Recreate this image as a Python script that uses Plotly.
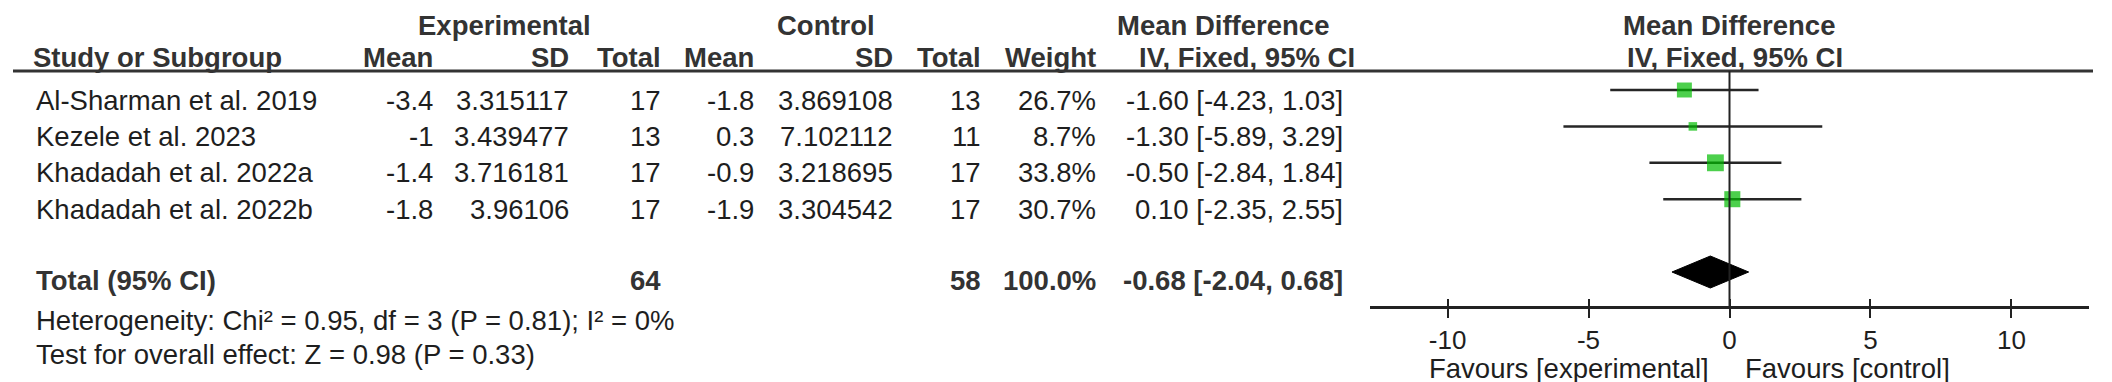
import plotly.graph_objects as go
import math

# ---------------- data ----------------
studies = ["Al-Sharman et al. 2019", "Kezele et al. 2023", "Khadadah et al. 2022a", "Khadadah et al. 2022b"]
exp_mean = ["-3.4", "-1", "-1.4", "-1.8"]
exp_sd = ["3.315117", "3.439477", "3.716181", "3.96106"]
exp_total = [17, 13, 17, 17]
ctrl_mean = ["-1.8", "0.3", "-0.9", "-1.9"]
ctrl_sd = ["3.869108", "7.102112", "3.218695", "3.304542"]
ctrl_total = [13, 11, 17, 17]
weights = [26.7, 8.7, 33.8, 30.7]
md = [-1.60, -1.30, -0.50, 0.10]
ci_low = [-4.23, -5.89, -2.84, -2.35]
ci_high = [1.03, 3.29, 1.84, 2.55]

total_label = "Total (95% CI)"
total_exp = 64
total_ctrl = 58
total_weight = 100.0
total_md = -0.68
total_low = -2.04
total_high = 0.68

heterogeneity = "Heterogeneity: Chi² = 0.95, df = 3 (P = 0.81); I² = 0%"
overall = "Test for overall effect: Z = 0.98 (P = 0.33)"

tick_vals = [-10, -5, 0, 5, 10]
tick_text = ["-10", "-5", "0", "5", "10"]
favours_left = "Favours [experimental]"
favours_right = "Favours [control]"

# ---------------- layout helpers ----------------
W, H = 2112, 382
FONT = "Arial, 'Liberation Sans', sans-serif"
TXT = "#1e1e1e"
HDR = "#333333"
FS = 27.5
ROW0, ROWH = 82.0, 36.4  # pixel centre of first row, row pitch


def px(x):
    return x / W


def py(y):
    return 1 - y / H


rows = list(range(len(studies)))
total_row = len(studies) + 1

fig = go.Figure()

# CI lines
for i in rows:
    fig.add_trace(go.Scatter(x=[ci_low[i], ci_high[i]], y=[i, i], mode="lines",
                             line=dict(color="#262626", width=2.5), hoverinfo="skip",
                             showlegend=False))
# squares
fig.add_trace(go.Scatter(x=md, y=rows, mode="markers",
                         marker=dict(symbol="square", color="rgb(0,188,0)",
                                     size=[2.9 * math.sqrt(w) for w in weights],
                                     line=dict(width=0)),
                         hoverinfo="skip", showlegend=False))
# diamond
dh = 16 / ROWH
fig.add_trace(go.Scatter(x=[total_low, total_md, total_high, total_md, total_low],
                         y=[total_row, total_row - dh, total_row, total_row + dh, total_row],
                         mode="lines", fill="toself", fillcolor="black",
                         line=dict(color="black", width=1), hoverinfo="skip",
                         showlegend=False))
# invisible trace for tick overlay axis
fig.add_trace(go.Scatter(x=[None], y=[None], xaxis="x2", yaxis="y", showlegend=False))

ann = []


def add(text, x, y, xanchor="right", bold=False, yref="y", yshift=-10, size=FS, color=None):
    ann.append(dict(text=("<b>%s</b>" % text) if bold else text, x=x, y=y,
                    xref="paper", yref=yref, xanchor=xanchor, yanchor="middle",
                    showarrow=False, yshift=yshift,
                    font=dict(family=FONT, size=size, color=color or (HDR if bold else TXT))))


# column right edges (px)
c_study, c_em, c_esd, c_et, c_cm, c_csd, c_ct, c_w, c_ci = 26, 427, 563, 655, 748, 887, 975, 1090, 1337

# header row 1
add("Experimental", px(496), py(17), "center", True, "paper", 0)
add("Control", px(818), py(17), "center", True, "paper", 0)
add("Mean Difference", px(1215), py(17), "center", True, "paper", 0)
add("Mean Difference", px(1721), py(17), "center", True, "paper", 0)
# header row 2
hy = py(50)
add("Study or Subgroup", px(c_study - 3), hy, "left", True, "paper", 0)
for t, c in [("Mean", c_em), ("SD", c_esd), ("Total", c_et), ("Mean", c_cm), ("SD", c_csd),
             ("Total", c_ct), ("Weight", c_w)]:
    add(t, px(c), hy, "right", True, "paper", 0)
add("IV, Fixed, 95% CI", px(1239), hy, "center", True, "paper", 0)
add("IV, Fixed, 95% CI", px(1727), hy, "center", True, "paper", 0)

# study rows
for i in rows:
    add(studies[i], px(c_study), i, "left")
    add(exp_mean[i], px(c_em), i)
    add(exp_sd[i], px(c_esd), i)
    add(str(exp_total[i]), px(c_et), i)
    add(ctrl_mean[i], px(c_cm), i)
    add(ctrl_sd[i], px(c_csd), i)
    add(str(ctrl_total[i]), px(c_ct), i)
    add("%.1f%%" % weights[i], px(c_w), i)
    add("%.2f [%.2f, %.2f]" % (md[i], ci_low[i], ci_high[i]), px(c_ci), i)

# total row
add(total_label, px(c_study), total_row, "left", True, yshift=-8)
add(str(total_exp), px(c_et), total_row, "right", True, yshift=-8)
add(str(total_ctrl), px(c_ct), total_row, "right", True, yshift=-8)
add("%.1f%%" % total_weight, px(c_w), total_row, "right", True, yshift=-8)
add("%.2f [%.2f, %.2f]" % (total_md, total_low, total_high), px(c_ci), total_row, "right",
    True, yshift=-8)

# footers
add(heterogeneity, px(c_study), py(312), "left", False, "paper", 0)
add(overall, px(c_study), py(346), "left", False, "paper", 0)
add(favours_left, px(1703), py(360), "right", False, "paper", 0)
add(favours_right, px(1735), py(360), "left", False, "paper", 0)

axis_pos = py(299)
shapes = [
    dict(type="line", xref="paper", yref="paper", x0=px(5), x1=px(2085), y0=py(63), y1=py(63),
         line=dict(color="#333333", width=3)),
    dict(type="line", xref="x", yref="paper", x0=0, x1=0, y0=axis_pos, y1=py(63),
         line=dict(color="#222222", width=2)),
]

fig.update_layout(
    width=W, height=H, autosize=False,
    margin=dict(l=0, r=0, t=0, b=0, pad=0),
    paper_bgcolor="white", plot_bgcolor="white",
    showlegend=False,
    annotations=ann, shapes=shapes,
    xaxis=dict(domain=[px(1362), px(2081)], range=[-12.75, 12.75], anchor="free",
               position=axis_pos, showgrid=False, zeroline=False,
               showline=True, linecolor="#222222", linewidth=3,
               ticks="outside", ticklen=9, tickwidth=2, tickcolor="#222222",
               tickvals=tick_vals, ticktext=tick_text, ticklabelstandoff=0,
               tickfont=dict(family=FONT, size=26, color=TXT)),
    xaxis2=dict(domain=[px(1362), px(2081)], range=[-12.75, 12.75], matches="x",
                overlaying="x", anchor="free", position=axis_pos, showgrid=False,
                zeroline=False, showline=False, ticks="inside", ticklen=8, tickwidth=2,
                tickcolor="#222222", tickvals=tick_vals, showticklabels=False),
    yaxis=dict(domain=[0, 1], range=[(H - ROW0) / ROWH, -ROW0 / ROWH], visible=False,
               showgrid=False, zeroline=False),
)

fig.write_html("out.html")
